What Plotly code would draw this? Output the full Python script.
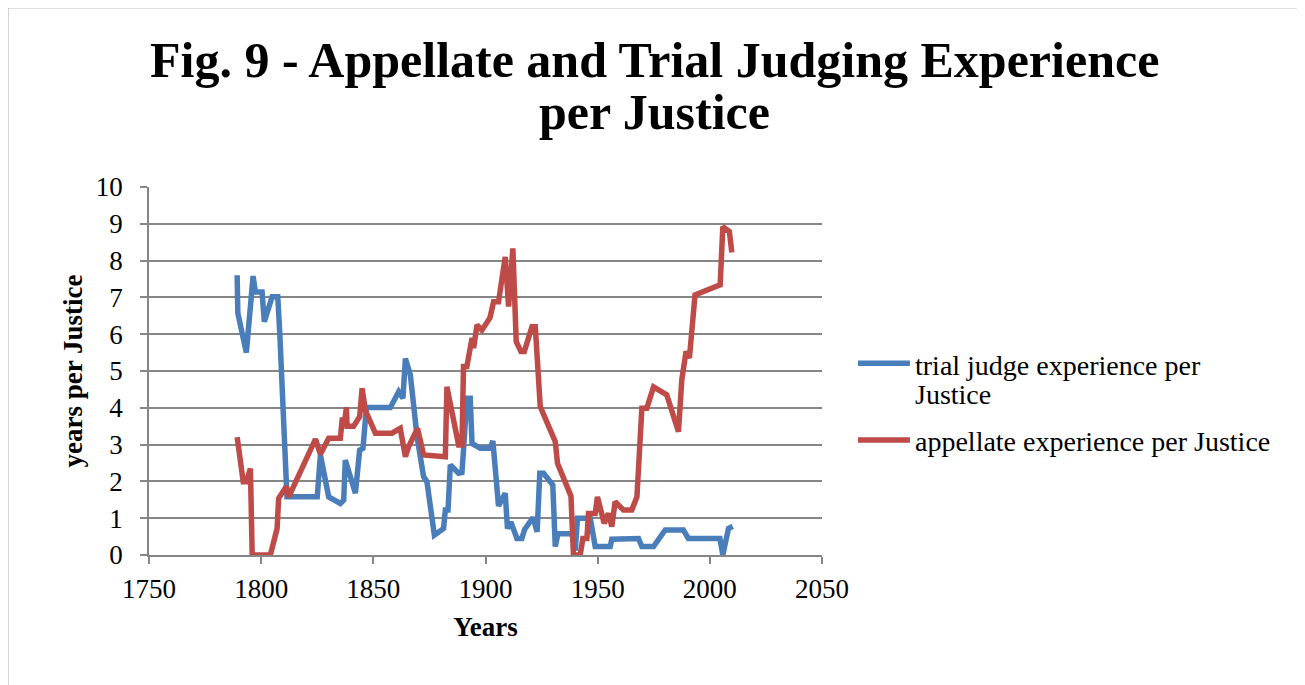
import plotly.graph_objects as go

# ---- data ----
trial_years = [1789.3, 1789.6, 1793.4, 1796.4, 1797.4, 1800.4, 1801.4, 1804.9, 1807.4, 1808.3,
               1811.5, 1825.0, 1826.4, 1830.1, 1835.3, 1836.8, 1837.5, 1839.8, 1842.0, 1843.9,
               1845.4, 1846.9, 1857.6, 1861.3, 1863.2, 1864.3, 1866.5, 1869.5, 1872.4, 1873.9,
               1877.2, 1881.3, 1882.1, 1883.3, 1884.3, 1888.0, 1889.5, 1890.5, 1891.7, 1893.2,
               1894.0, 1897.7, 1902.1, 1903.3, 1905.8, 1908.8, 1909.8, 1911.3, 1914.0, 1916.2,
               1917.5, 1921.2, 1923.0, 1924.2, 1925.9, 1930.0, 1931.1, 1932.3, 1938.5, 1940.0,
               1941.0, 1946.7, 1948.9, 1955.6, 1956.3, 1968.2, 1969.7, 1974.9, 1980.1, 1988.2,
               1990.4, 2004.5, 2005.8, 2008.3, 2010.2]
trial_values = [7.6, 6.57, 5.5, 7.58, 7.15, 7.15, 6.34, 7.02, 7.02, 6.02,
                1.58, 1.58, 2.72, 1.58, 1.4, 1.49, 2.58, 2.08, 1.68, 2.85,
                2.9, 4.01, 4.01, 4.44, 4.26, 5.34, 4.89, 3.21, 2.13, 1.99,
                0.54, 0.72, 1.22, 1.22, 2.45, 2.22, 2.24, 3.12, 4.26, 4.26,
                3.03, 2.9, 2.9, 3.1, 1.33, 1.68, 0.72, 0.9, 0.45, 0.45,
                0.7, 1.02, 0.63, 2.22, 2.22, 1.9, 0.23, 0.58, 0.58, 0.12,
                1.0, 1.0, 0.23, 0.23, 0.43, 0.45, 0.23, 0.23, 0.68, 0.68,
                0.45, 0.45, 0.0, 0.72, 0.78]

appellate_years = [1789.3, 1790.4, 1792.0, 1793.4, 1795.2, 1796.0, 1804.1, 1807.1, 1807.8, 1811.2,
                   1812.3, 1824.2, 1826.4, 1830.1, 1835.3, 1836.1, 1837.3, 1838.0, 1838.3, 1841.2,
                   1843.9, 1845.0, 1846.4, 1850.9, 1858.3, 1862.0, 1864.3, 1865.7, 1869.7, 1872.4,
                   1882.1, 1882.8, 1888.0, 1889.5, 1890.2, 1891.7, 1892.9, 1894.0, 1894.7, 1896.2,
                   1898.4, 1902.0, 1903.6, 1905.8, 1908.8, 1910.3, 1912.2, 1913.7, 1915.8, 1917.3,
                   1920.7, 1922.2, 1924.4, 1931.1, 1932.1, 1937.0, 1938.1, 1939.2, 1942.2, 1943.4,
                   1945.2, 1945.9, 1948.9, 1949.9, 1952.9, 1954.8, 1956.3, 1957.8, 1961.5, 1965.2,
                   1967.5, 1969.7, 1971.9, 1974.9, 1980.8, 1986.0, 1987.5, 1989.4, 1990.9, 1993.4,
                   1994.9, 2004.6, 2005.8, 2008.7, 2009.8]
appellate_values = [3.2, 2.67, 1.99, 1.99, 2.35, 0.0, 0.0, 0.72, 1.54, 1.86,
                    1.58, 3.15, 2.74, 3.17, 3.17, 3.67, 3.67, 4.01, 3.5, 3.5,
                    3.76, 4.53, 3.94, 3.31, 3.31, 3.44, 2.67, 2.94, 3.44, 2.72,
                    2.67, 4.57, 2.99, 2.99, 5.12, 5.12, 5.66, 5.9, 5.62, 6.25,
                    6.11, 6.45, 6.88, 6.88, 8.1, 6.75, 8.33, 5.8, 5.53, 5.53,
                    6.2, 6.2, 4.03, 3.08, 2.49, 1.68, 1.6, 0.0, 0.0, 0.45,
                    0.45, 1.13, 1.13, 1.58, 0.86, 1.13, 0.77, 1.45, 1.22, 1.22,
                    1.58, 3.99, 3.99, 4.57, 4.35, 3.35, 4.76, 5.53, 5.35, 7.07,
                    7.11, 7.34, 8.92, 8.79, 8.22]

x_ticks = [1750, 1800, 1850, 1900, 1950, 2000, 2050]
y_ticks = list(range(0, 11))

title_lines = ["Fig. 9 - Appellate and Trial Judging Experience", "per Justice"]
trial_name_lines = ["trial judge experience per", "Justice"]
appellate_name = "appellate experience per Justice"
trial_color = "#4A7EBB"
appellate_color = "#BE4B48"

# ---- layout geometry (screen pixels; page body has an 8px margin) ----
OFF = 8
W, H = 1297, 677
SX0, SX1, SY0, SY1 = 148.5, 822.0, 186.7, 555.0   # plot area on screen
L, T = SX0 - OFF, SY0 - OFF
R, B = W - (SX1 - OFF), H - (SY1 - OFF)
pw, ph = SX1 - SX0, SY1 - SY0

def sx(px):
    return (px - SX0) / pw

def sy(py):
    return (SY1 - py) / ph

FONT = "Liberation Serif"
GRAY = "#868686"

fig = go.Figure()
fig.add_trace(go.Scatter(x=trial_years, y=trial_values, mode="lines",
                         name=" ".join(trial_name_lines),
                         line=dict(color=trial_color, width=5.5)))
fig.add_trace(go.Scatter(x=appellate_years, y=appellate_values, mode="lines",
                         name=appellate_name,
                         line=dict(color=appellate_color, width=5.5)))

annotations = []
# title (two lines)
for txt, yc, sz in [(title_lines[0], 60, 50), (title_lines[1], 112, 50)]:
    annotations.append(dict(text="<b>" + txt + "</b>", xref="paper", yref="paper",
                            x=sx(654), y=sy(yc), xanchor="center", yanchor="middle",
                            showarrow=False, font=dict(family=FONT, size=sz, color="black")))
# legend text
for txt, yc in [(trial_name_lines[0], 365), (trial_name_lines[1], 394), (appellate_name, 441)]:
    annotations.append(dict(text=txt, xref="paper", yref="paper",
                            x=sx(913), y=sy(yc), xanchor="left", yanchor="middle",
                            showarrow=False, font=dict(family=FONT, size=28, color="black")))

shapes = [
    dict(type="rect", xref="paper", yref="paper",
         x0=sx(7), x1=sx(1300), y0=sy(700), y1=sy(7),
         line=dict(color=GRAY, width=1.5), fillcolor="rgba(0,0,0,0)", layer="below"),
    dict(type="line", xref="paper", yref="paper", x0=sx(858), x1=sx(910), y0=sy(363), y1=sy(363),
         line=dict(color=trial_color, width=5.5)),
    dict(type="line", xref="paper", yref="paper", x0=sx(858), x1=sx(910), y0=sy(440), y1=sy(440),
         line=dict(color=appellate_color, width=5.5)),
]

fig.update_layout(
    width=W, height=H,
    margin=dict(l=L, r=R, t=T, b=B, autoexpand=False),
    paper_bgcolor="white", plot_bgcolor="white",
    font=dict(family=FONT, color="black"),
    showlegend=False,
    annotations=annotations,
    shapes=shapes,
    xaxis=dict(range=[1750, 2050], tickvals=x_ticks, ticktext=[str(v) for v in x_ticks],
               showgrid=False, zeroline=False, showline=True, linecolor=GRAY, linewidth=1.5,
               ticks="outside", ticklen=7, tickcolor=GRAY, tickwidth=1.5,
               tickfont=dict(family=FONT, size=27, color="black"), ticklabelstandoff=2,
               title=dict(text="<b>Years</b>", font=dict(family=FONT, size=27, color="black"),
                          standoff=14)),
    yaxis=dict(range=[0, 10], tickvals=y_ticks, ticktext=[str(v) for v in y_ticks],
               showgrid=True, gridcolor=GRAY, gridwidth=1.5, zeroline=False,
               showline=True, linecolor=GRAY, linewidth=1.5,
               ticks="outside", ticklen=7, tickcolor=GRAY, tickwidth=1.5,
               tickfont=dict(family=FONT, size=27, color="black"), ticklabelstandoff=12,
               title=dict(text="<b>years per Justice</b>",
                          font=dict(family=FONT, size=27, color="black"), standoff=5)),
)

fig.write_html("out.html")
